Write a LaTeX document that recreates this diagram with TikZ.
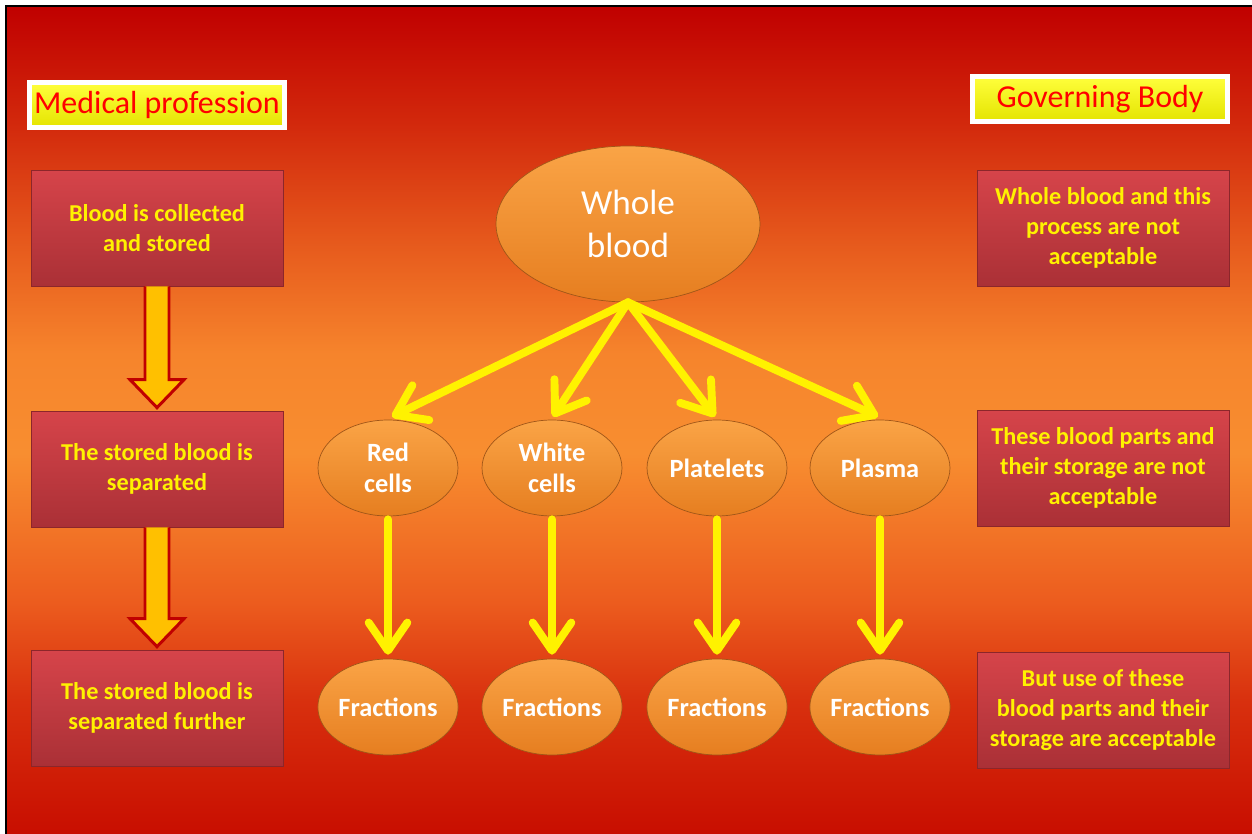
\documentclass[tikz,border=0pt]{standalone}
\usepackage{fontspec}
\setmainfont{Carlito}
\usetikzlibrary{shapes.geometric,arrows.meta,calc}

\definecolor{bgA}{RGB}{200,14,0}
\definecolor{bgB}{RGB}{216,48,14}
\definecolor{bgC}{RGB}{236,92,30}
\definecolor{bgD}{RGB}{248,142,48}
\definecolor{bgE}{RGB}{246,132,44}
\definecolor{bgF}{RGB}{232,94,30}
\definecolor{bgG}{RGB}{210,40,12}
\definecolor{bgH}{RGB}{192,0,0}
\definecolor{boxtop}{RGB}{214,68,74}
\definecolor{boxbot}{RGB}{170,48,54}
\definecolor{boxedge}{RGB}{140,38,42}
\definecolor{ovaltop}{RGB}{250,164,70}
\definecolor{ovalbot}{RGB}{230,126,32}
\definecolor{ovaledge}{RGB}{160,86,24}
\definecolor{tagtop}{RGB}{255,255,60}
\definecolor{tagbot}{RGB}{228,228,0}
\definecolor{gold}{RGB}{255,192,0}
\definecolor{darkred}{RGB}{192,0,0}

\pgfdeclareverticalshading{slidebg}{100bp}{color(0bp)=(bgA); color(25bp)=(bgA);
  color(33bp)=(bgB); color(39bp)=(bgC); color(48bp)=(bgD); color(54bp)=(bgE);
  color(60bp)=(bgF); color(68bp)=(bgG); color(75bp)=(bgH); color(100bp)=(bgH)}

\begin{document}
\begin{tikzpicture}[x=0.02cm,y=-0.02cm]

  \tikzset{
    stepbox/.style={
      rectangle,
      draw=boxedge,
      top color=boxtop,
      bottom color=boxbot,
      minimum width=5.04cm,
      minimum height=2.32cm,
      inner sep=0pt,
      align=center,
      text=yellow,
      font=\fontsize{13.8}{17.2}\selectfont\bfseries,
    },
    tag/.style={
      rectangle,
      draw=white,
      line width=2.5pt,
      top color=tagtop,
      bottom color=tagbot,
      minimum width=5.1cm,
      minimum height=0.9cm,
      inner sep=0pt,
      text=red,
      font=\fontsize{18.2}{20}\selectfont,
    },
    oval/.style={
      ellipse,
      draw=ovaledge,
      top color=ovaltop,
      bottom color=ovalbot,
      minimum width=2.8cm,
      minimum height=1.92cm,
      inner sep=0pt,
      align=center,
      text=white,
      font=\fontsize{15}{17.6}\selectfont\bfseries,
    },
    yarrow/.style={
      draw=yellow,
      line width=4.5pt,
      line cap=round,
      -{Straight Barb[length=16pt,width=22pt,round]},
    },
    blockarr/.style={
      draw=darkred,
      fill=gold,
      line width=1.7pt,
      line join=miter,
    },
  }
  \useasboundingbox (0,0) rectangle (1252,834);
  \fill[white] (0,0) rectangle (1252,834);
  \shade[shading=slidebg] (6,6) rectangle (1252,834);
  \draw[black,line width=1.2pt] (6,834) -- (6,6) -- (1252,6);

  % headings
  \node[tag] (med) at (157,105) {Medical profession};
  \node[tag] (gov) at (1100,99) {Governing Body};

  % left column
  \node[stepbox] (med1) at (157,228) {Blood is collected\\and stored};
  \node[stepbox] (med2) at (157,469) {The stored blood is\\separated};
  \node[stepbox] (med3) at (157,708) {The stored blood is\\separated further};

  \draw[blockarr] ($(med1.south)+(-12,0)$) -- ($(med2.north)+(-12,-31)$) -- ($(med2.north)+(-27,-31)$)
    -- ($(med2.north)+(0,-3)$) -- ($(med2.north)+(27,-31)$) -- ($(med2.north)+(12,-31)$) -- ($(med1.south)+(12,0)$);
  \draw[blockarr] ($(med2.south)+(-12,0)$) -- ($(med3.north)+(-12,-31)$) -- ($(med3.north)+(-27,-31)$)
    -- ($(med3.north)+(0,-3)$) -- ($(med3.north)+(27,-31)$) -- ($(med3.north)+(12,-31)$) -- ($(med2.south)+(12,0)$);

  % right column
  \node[stepbox] (gov1) at (1103,228) {Whole blood and this\\process are not\\acceptable};
  \node[stepbox] (gov2) at (1103,468) {These blood parts and\\their storage are not\\acceptable};
  \node[stepbox] (gov3) at (1103,710) {But use of these\\blood parts and their\\storage are acceptable};

  % middle
  \node[oval,minimum width=5.28cm,minimum height=3.12cm,font=\fontsize{20}{24.5}\selectfont] (wb) at (628,224) {Whole\\blood};

  \node[oval] (rc) at (388,468) {Red\\cells};
  \node[oval] (wc) at (552,468) {White\\cells};
  \node[oval] (pl) at (717,468) {Platelets};
  \node[oval] (pm) at (880,468) {Plasma};

  \node[oval] (rcf) at (388,707) {Fractions};
  \node[oval] (wcf) at (552,707) {Fractions};
  \node[oval] (plf) at (717,707) {Fractions};
  \node[oval] (pmf) at (880,707) {Fractions};

  \draw[yarrow] (wb.south) -- ($(rc.north)+(4,-3)$);
  \draw[yarrow] (wb.south) -- ($(wc.north)+(1,-3)$);
  \draw[yarrow] (wb.south) -- ($(pl.north)+(-2,-3)$);
  \draw[yarrow] (wb.south) -- ($(pm.north)+(-2,-3)$);

  \foreach \a/\b in {rc/rcf,wc/wcf,pl/plf,pm/pmf}
    \draw[yarrow] ($(\a.south)+(0,3)$) -- ($(\b.north)+(0,-4)$);

\end{tikzpicture}
\end{document}
